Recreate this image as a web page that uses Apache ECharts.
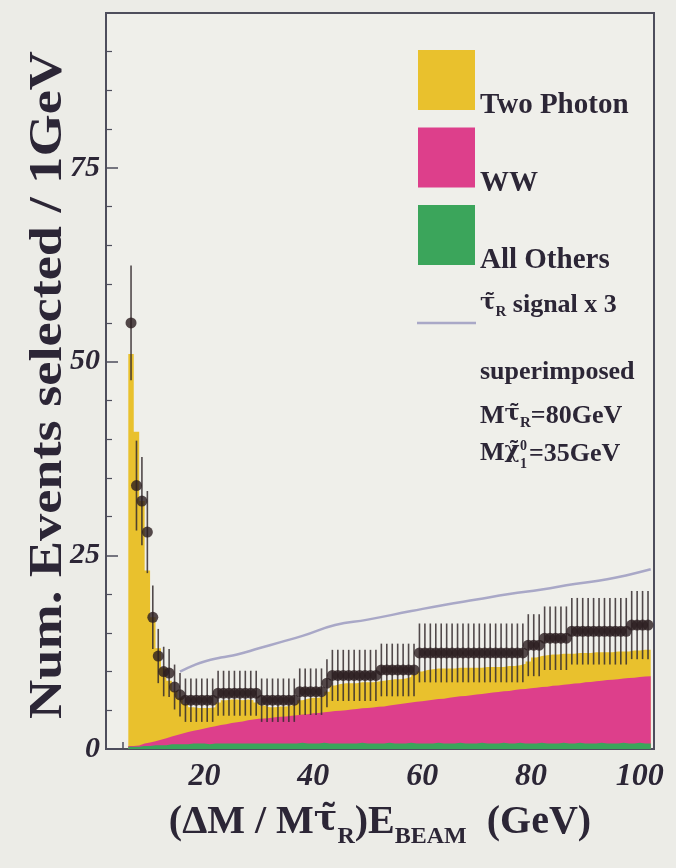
<!DOCTYPE html>
<html><head><meta charset="utf-8">
<script src="https://cdn.jsdelivr.net/npm/echarts@6/dist/echarts.min.js"></script>
<style>html,body{margin:0;padding:0;background:#ecece7;}#c{width:676px;height:868px;}</style>
</head><body><div id="c"></div>
<script>
// ---- data ----
const binCenters = [6.5,7.5,8.5,9.5,10.5,11.5,12.5,13.5,14.5,15.5,
16.5,17.5,18.5,19.5,20.5,21.5,22.5,23.5,24.5,25.5,
26.5,27.5,28.5,29.5,30.5,31.5,32.5,33.5,34.5,35.5,
36.5,37.5,38.5,39.5,40.5,41.5,42.5,43.5,44.5,45.5,
46.5,47.5,48.5,49.5,50.5,51.5,52.5,53.5,54.5,55.5,
56.5,57.5,58.5,59.5,60.5,61.5,62.5,63.5,64.5,65.5,
66.5,67.5,68.5,69.5,70.5,71.5,72.5,73.5,74.5,75.5,
76.5,77.5,78.5,79.5,80.5,81.5,82.5,83.5,84.5,85.5,
86.5,87.5,88.5,89.5,90.5,91.5,92.5,93.5,94.5,95.5,
96.5,97.5,98.5,99.5,100.5,101.5];

const allOthers = [0.3,0.3,0.4,0.4,0.5,0.5,0.5,0.6,0.6,0.6,
0.6,0.7,0.7,0.7,0.6,0.7,0.7,0.7,0.7,0.7,
0.7,0.7,0.7,0.7,0.7,0.7,0.7,0.7,0.7,0.7,
0.7,0.8,0.7,0.7,0.7,0.8,0.7,0.7,0.7,0.7,
0.7,0.7,0.8,0.7,0.7,0.7,0.7,0.8,0.7,0.7,
0.7,0.8,0.7,0.7,0.7,0.7,0.8,0.7,0.7,0.7,
0.8,0.7,0.7,0.7,0.8,0.7,0.7,0.7,0.8,0.7,
0.7,0.8,0.7,0.7,0.7,0.8,0.7,0.7,0.7,0.8,
0.7,0.7,0.8,0.7,0.7,0.7,0.8,0.7,0.7,0.7,
0.8,0.7,0.7,0.8,0.7,0.7];

const wwValues = [0.1,0.15,0.3,0.45,0.5,0.7,0.9,1.0,1.2,1.4,
1.6,1.65,1.8,1.95,2.2,2.25,2.4,2.5,2.65,2.75,
2.85,3.0,3.1,3.2,3.25,3.3,3.4,3.45,3.5,3.6,
3.65,3.65,3.8,3.9,3.95,3.95,4.1,4.2,4.25,4.3,
4.4,4.45,4.45,4.6,4.65,4.75,4.8,4.8,5.0,5.1,
5.2,5.2,5.4,5.45,5.55,5.65,5.65,5.8,5.9,6.0,
6.0,6.15,6.25,6.35,6.3,6.5,6.6,6.65,6.65,6.8,
6.9,6.9,7.05,7.15,7.2,7.2,7.35,7.45,7.5,7.5,
7.65,7.75,7.7,7.9,7.95,8.05,8.0,8.2,8.25,8.3,
8.3,8.45,8.5,8.5,8.65,8.7];

const twoPhoton = [50.6,40.5,31.3,22.2,16.0,11.8,9.1,7.2,5.7,4.6,
3.6,3.05,2.8,2.65,2.5,2.45,2.9,3.1,3.05,2.95,
2.75,2.7,2.5,2.1,1.65,1.4,1.3,1.35,1.3,1.3,
1.45,1.85,2.0,2.0,1.95,2.05,2.6,3.3,3.45,3.5,
3.4,3.35,3.35,3.3,3.25,3.25,3.3,3.3,3.3,3.2,
3.2,3.3,3.5,3.85,3.95,3.95,3.95,3.9,3.8,3.7,
3.7,3.65,3.55,3.45,3.4,3.4,3.3,3.25,3.15,3.2,
3.1,3.1,3.25,3.45,3.9,4.0,4.05,4.05,4.0,4.0,
3.95,3.85,3.9,3.8,3.75,3.75,3.7,3.6,3.55,3.6,
3.5,3.45,3.5,3.4,3.45,3.4];

const dataValues = [55,34,32,28,17,12,10,9.8,8,7,
6.3,6.3,6.3,6.3,6.3,6.3,7.2,7.2,7.2,7.2,
7.2,7.2,7.2,7.2,6.3,6.3,6.3,6.3,6.3,6.3,
6.3,7.4,7.4,7.4,7.4,7.4,8.5,9.5,9.5,9.5,
9.5,9.5,9.5,9.5,9.5,9.5,10.2,10.2,10.2,10.2,
10.2,10.2,10.2,12.4,12.4,12.4,12.4,12.4,12.4,12.4,
12.4,12.4,12.4,12.4,12.4,12.4,12.4,12.4,12.4,12.4,
12.4,12.4,12.4,13.4,13.4,13.4,14.3,14.3,14.3,14.3,
14.3,15.2,15.2,15.2,15.2,15.2,15.2,15.2,15.2,15.2,
15.2,15.2,16.0,16.0,16.0,16.0];

const dataErrors = [7.4,5.8,5.7,5.3,4.1,3.5,3.2,3.1,2.9,2.8,
2.8,2.8,2.8,2.8,2.8,2.8,2.9,2.9,2.9,2.9,
2.9,2.9,2.9,2.9,2.8,2.8,2.8,2.8,2.8,2.8,
2.8,3.0,3.0,3.0,3.0,3.0,3.1,3.3,3.3,3.3,
3.3,3.3,3.3,3.3,3.3,3.3,3.4,3.4,3.4,3.4,
3.4,3.4,3.4,3.8,3.8,3.8,3.8,3.8,3.8,3.8,
3.8,3.8,3.8,3.8,3.8,3.8,3.8,3.8,3.8,3.8,
3.8,3.8,3.8,4.0,4.0,4.0,4.1,4.1,4.1,4.1,
4.1,4.3,4.3,4.3,4.3,4.3,4.3,4.3,4.3,4.3,
4.3,4.3,4.4,4.4,4.4,4.4];

const signalX = [15.5,18,20,23,26,30,34,38,44,50,58,64,70,76,82,88,94,98,102];
const signalY = [10.0,10.8,11.3,11.8,12.2,13.0,13.8,14.6,16.0,16.7,17.8,18.6,19.3,20.0,20.6,21.3,21.9,22.5,23.2];

const xLabelValues = [20,40,60,80,100];
const xTickValues = [5,10,15,20,25,30,35,40,45,50,55,60,65,70,75,80,85,90,95,100];
const yLabelValues = [0,25,50,75];
const yMinorTickValues = [5,10,15,20,30,35,40,45,55,60,65,70,80,85,90];

// ---- styling ----
const YELLOW = '#e9c12d', PINK = '#dd3f8b', GREEN = '#3ba55b', SIG = '#a9a8c7';
const DOT = '#2a1d1f', TXT = '#2c2636', FRAME = '#4e4e5c';
const SERIF = '"Liberation Serif", "DejaVu Serif", serif';
const GREEKF = '"DejaVu Serif", serif';

// stacked histogram tops (cumulative), drawn back to front
const topOthers = allOthers.slice();
const topWW = allOthers.map((v, i) => v + wwValues[i]);
const topTwoPhoton = topWW.map((v, i) => v + twoPhoton[i]);

function histData(vals) {
  const d = binCenters.map((c, i) => [c - 0.5, vals[i]]);
  d.push([binCenters[binCenters.length - 1] + 0.5, vals[vals.length - 1]]);
  return d;
}
function areaSeries(name, vals, color) {
  return {
    name, type: 'line', step: 'end', data: histData(vals),
    symbol: 'none', lineStyle: { width: 0, opacity: 0 },
    itemStyle: { color }, areaStyle: { color, opacity: 1, origin: 'start' }, z: 1, silent: true
  };
}

const chart = echarts.init(document.getElementById('c'), null, { renderer: 'canvas' });

// rich styles for graphic texts (zrender style keys)
const gMain = { fontFamily: SERIF, fontWeight: 'bold', fontSize: 26, lineHeight: 28, verticalAlign: 'top', fill: TXT };
const gGreek = { fontFamily: GREEKF, fontWeight: 'bold', fontSize: 23, lineHeight: 28, verticalAlign: 'top', fill: TXT };
const gSub = { fontFamily: SERIF, fontWeight: 'bold', fontSize: 15, lineHeight: 15, padding: [19, 0, 0, 0], verticalAlign: 'bottom', fill: TXT };

chart.setOption({
  animation: false,
  backgroundColor: '#ecece7',
  grid: { left: 106, right: 22, top: 13, bottom: 119, show: true, borderColor: FRAME, borderWidth: 2, backgroundColor: '#efefea' },
  legend: {
    orient: 'vertical', left: 418, top: 50, padding: 0, itemWidth: 57, itemHeight: 60, itemGap: 7,
    icon: 'rect', selectedMode: false,
    data: [
      { name: 'Two Photon', itemStyle: { color: YELLOW } },
      { name: 'WW', itemStyle: { color: PINK } },
      { name: 'All Others', itemStyle: { color: GREEN } }
    ],
    formatter: '{t|{name}}',
    textStyle: {
      rich: { t: { fontFamily: SERIF, fontWeight: 'bold', fontSize: 29, color: TXT, padding: [52, 0, 0, 0] } }
    }
  },
  xAxis: [{
    type: 'value', min: 1.9, max: 102.6,
    axisLine: { show: false }, splitLine: { show: false },
    axisTick: { show: true, inside: true, length: 7, customValues: xTickValues, lineStyle: { color: FRAME, width: 1.5 } },
    axisLabel: { customValues: xLabelValues, fontFamily: SERIF, fontStyle: 'italic', fontWeight: 'bold', fontSize: 32, color: TXT, margin: 12 },
    name: '{m|(ΔM / M}{g|τ̃}{s|R}{m|)E}{s|BEAM}{m|  (GeV)}',
    nameLocation: 'middle', nameGap: 54, nameMoveOverlap: false,
    nameTextStyle: {
      rich: {
        m: { fontFamily: SERIF, fontWeight: 'bold', fontSize: 40, lineHeight: 46, verticalAlign: 'top', color: TXT },
        g: { fontFamily: GREEKF, fontWeight: 'bold', fontSize: 35, lineHeight: 46, verticalAlign: 'top', color: TXT },
        s: { fontFamily: SERIF, fontWeight: 'bold', fontSize: 24, lineHeight: 24, padding: [30, 0, 0, 0], verticalAlign: 'bottom', color: TXT }
      }
    }
  }],
  yAxis: [{
    type: 'value', min: 0, max: 95,
    axisLine: { show: false }, splitLine: { show: false },
    axisTick: { show: true, inside: true, length: 12, customValues: yLabelValues, lineStyle: { color: FRAME, width: 1.5 } },
    axisLabel: { customValues: yLabelValues, fontFamily: SERIF, fontStyle: 'italic', fontWeight: 'bold', fontSize: 30, color: TXT, margin: 6 }
  }, {
    type: 'value', min: 0, max: 95, position: 'left',
    axisLine: { show: false }, splitLine: { show: false }, axisLabel: { show: false },
    axisTick: { show: true, inside: true, length: 6, customValues: yMinorTickValues, lineStyle: { color: FRAME, width: 1.2 } }
  }],
  series: [
    areaSeries('Two Photon', topTwoPhoton, YELLOW),
    areaSeries('WW', topWW, PINK),
    areaSeries('All Others', topOthers, GREEN),
    {
      name: 'signal', type: 'line', smooth: true, symbol: 'none', z: 3, silent: true,
      data: signalX.map((x, i) => [x, signalY[i]]),
      lineStyle: { color: SIG, width: 2.5 }
    },
    {
      name: 'errors', type: 'custom', z: 4, silent: true,
      data: binCenters.map((c, i) => [c, dataValues[i], dataErrors[i]]),
      encode: { x: 0, y: 1 },
      renderItem: (params, api) => {
        const x = api.value(0), y = api.value(1), e = api.value(2);
        const p1 = api.coord([x, y + e]), p2 = api.coord([x, y - e]);
        return { type: 'line', shape: { x1: p1[0], y1: p1[1], x2: p2[0], y2: p2[1] }, style: { stroke: '#352b2e', lineWidth: 1.6, opacity: 0.85 } };
      }
    },
    {
      name: 'Data', type: 'scatter', z: 5, silent: true, symbol: 'circle', symbolSize: 11,
      data: binCenters.map((c, i) => [c, dataValues[i]]),
      itemStyle: { color: DOT }
    }
  ],
  graphic: [
    // y-axis title
    { type: 'text', x: 49, y: 385, rotation: Math.PI / 2, scaleX: 1.18,
      style: { text: 'Num. Events selected / 1GeV', fontFamily: SERIF, fontWeight: 'bold', fontSize: 46, fill: TXT, align: 'center', verticalAlign: 'middle' } },
    // signal legend
    { type: 'line', shape: { x1: 417, y1: 323, x2: 476, y2: 323 }, style: { stroke: SIG, lineWidth: 2.5 } },
    { type: 'text', x: 480, y: 292, style: { text: '{g|τ̃}{s|R}{a| signal x 3}', rich: { a: gMain, g: gGreek, s: gSub } } },
    { type: 'text', x: 480, y: 372, style: { text: 'superimposed', fontFamily: SERIF, fontWeight: 'bold', fontSize: 26, fill: TXT, verticalAlign: 'middle' } },
    { type: 'text', x: 480, y: 403, style: { text: '{a|M}{g|τ̃}{s|R}{a|=80GeV}', rich: { a: gMain, g: gGreek, s: gSub } } },
    { type: 'text', x: 480, y: 440, style: { text: '{a|M}{g|χ̃}', rich: { a: gMain, g: gGreek } } },
    { type: 'text', x: 520, y: 446, style: { text: '0', fontFamily: SERIF, fontWeight: 'bold', fontSize: 14, fill: TXT, verticalAlign: 'middle' } },
    { type: 'text', x: 520, y: 464, style: { text: '1', fontFamily: SERIF, fontWeight: 'bold', fontSize: 14, fill: TXT, verticalAlign: 'middle' } },
    { type: 'text', x: 529, y: 454, style: { text: '=35GeV', fontFamily: SERIF, fontWeight: 'bold', fontSize: 26, fill: TXT, verticalAlign: 'middle' } }
  ]
});
</script>
</body></html>
